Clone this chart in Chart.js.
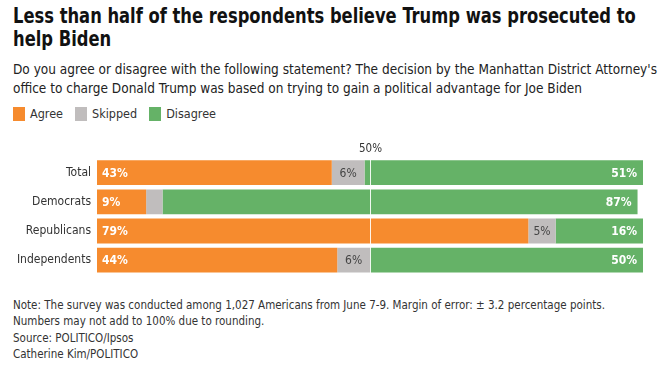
<!DOCTYPE html>
<html>
<head>
<meta charset="utf-8">
<script src="https://cdn.jsdelivr.net/npm/chart.js@4"></script>
<style>
    body { margin: 0; width: 666px; height: 368px; background: #fff; position: relative; overflow: hidden;
           font-family: "DejaVu Sans Condensed", "Roboto", sans-serif; color: #222; }
    #title { position: absolute; left: 13px; top: 5px; font-size: 21.5px; font-weight: bold; line-height: 22.5px; color: #111;
             white-space: nowrap; transform: scaleX(0.845); transform-origin: left top; }
    #subtitle { position: absolute; left: 13px; top: 60px; width: 650px; font-size: 13.5px; line-height: 19px; }
    #legend { position: absolute; left: 13px; top: 106px; font-size: 12.5px; display: flex; gap: 12px; color: #333; }
    #legend span { display: flex; align-items: center; gap: 5px; }
    #legend i { display: inline-block; width: 12px; height: 14px; }
    #chart-wrap { position: absolute; left: 0; top: 138px; width: 666px; height: 150px; }
    #footer { position: absolute; left: 13px; top: 297px; font-size: 11.5px; line-height: 16.4px; color: #333; }
</style>
</head>
<body>
<div id="title">Less than half of the respondents believe Trump was prosecuted to<br>help Biden</div>
<div id="subtitle">Do you agree or disagree with the following statement? The decision by the Manhattan District Attorney's office to charge Donald Trump was based on trying to gain a political advantage for Joe Biden</div>
<div id="legend"></div>
<div id="chart-wrap"><canvas id="chart"></canvas></div>
<div id="footer">Note: The survey was conducted among 1,027 Americans from June 7-9. Margin of error: ± 3.2 percentage points.<br>Numbers may not add to 100% due to rounding.<br>Source: POLITICO/Ipsos<br>Catherine Kim/POLITICO</div>
<script>
const categories = ['Total', 'Democrats', 'Republicans', 'Independents'];
const agree = [43, 9, 79, 44];
const skipped = [6, 3, 5, 6];
const disagree = [51, 87, 16, 50];
const seriesNames = ['Agree', 'Skipped', 'Disagree'];
const seriesColors = ['#f68b2e', '#c0bdbd', '#65b267'];
const midValue = 50;

const FONT = '"DejaVu Sans Condensed", sans-serif';

// legend
const legendEl = document.getElementById('legend');
seriesNames.forEach((name, i) => {
    const s = document.createElement('span');
    s.innerHTML = `<i style="background:${seriesColors[i]}"></i>${name}`;
    legendEl.appendChild(s);
});

const labelPlugin = {
    id: 'barLabels',
    afterDatasetsDraw(chart) {
        const ctx = chart.ctx;
        const xs = chart.scales.x;
        const area = chart.chartArea;
        ctx.save();
        // 50% guide line
        const mx = Math.round(xs.getPixelForValue(midValue)) + 0.5;
        ctx.strokeStyle = 'rgba(255,255,255,0.9)';
        ctx.lineWidth = 1;
        ctx.beginPath();
        ctx.moveTo(mx, area.top);
        ctx.lineTo(mx, area.bottom);
        ctx.stroke();
        ctx.fillStyle = '#333';
        ctx.font = '11.5px ' + FONT;
        ctx.textAlign = 'center';
        ctx.textBaseline = 'bottom';
        ctx.fillText(midValue + '%', mx, area.top - 3);

        chart.data.datasets.forEach((ds, di) => {
            const meta = chart.getDatasetMeta(di);
            meta.data.forEach((bar, i) => {
                const v = ds.data[i];
                const w = Math.abs(bar.x - bar.base);
                const left = Math.min(bar.x, bar.base);
                const right = Math.max(bar.x, bar.base);
                ctx.textBaseline = 'middle';
                if (di === 0) {
                    ctx.font = 'bold 12px ' + FONT;
                    ctx.fillStyle = '#fff';
                    ctx.textAlign = 'left';
                    ctx.fillText(v + '%', left + 5, bar.y + 1);
                } else if (di === 1) {
                    if (w < 20) return;
                    ctx.font = '12px ' + FONT;
                    ctx.fillStyle = '#444';
                    ctx.textAlign = 'center';
                    ctx.fillText(v + '%', (left + right) / 2, bar.y + 1);
                } else {
                    ctx.font = 'bold 12px ' + FONT;
                    ctx.fillStyle = '#fff';
                    ctx.textAlign = 'right';
                    ctx.fillText(v + '%', right - 6, bar.y + 1);
                }
            });
        });
        ctx.restore();
    }
};

new Chart(document.getElementById('chart'), {
    type: 'bar',
    data: {
        labels: categories,
        datasets: [agree, skipped, disagree].map((d, i) => ({
            label: seriesNames[i],
            data: d,
            backgroundColor: seriesColors[i],
            borderWidth: 0,
            categoryPercentage: 1,
            barPercentage: 0.85
        }))
    },
    options: {
        indexAxis: 'y',
        responsive: true,
        maintainAspectRatio: false,
        animation: false,
        layout: { padding: { top: 20, bottom: 6, right: 23, left: 0 } },
        plugins: { legend: { display: false }, tooltip: { enabled: false } },
        scales: {
            x: { stacked: true, min: 0, max: 100, display: false },
            y: {
                stacked: true,
                grid: { display: false, drawTicks: false },
                border: { display: false },
                ticks: {
                    color: '#333',
                    padding: 6,
                    font: { size: 12, family: FONT }
                },
                afterFit(scale) { scale.width = 97; }
            }
        }
    },
    plugins: [labelPlugin]
});
</script>
</body>
</html>
